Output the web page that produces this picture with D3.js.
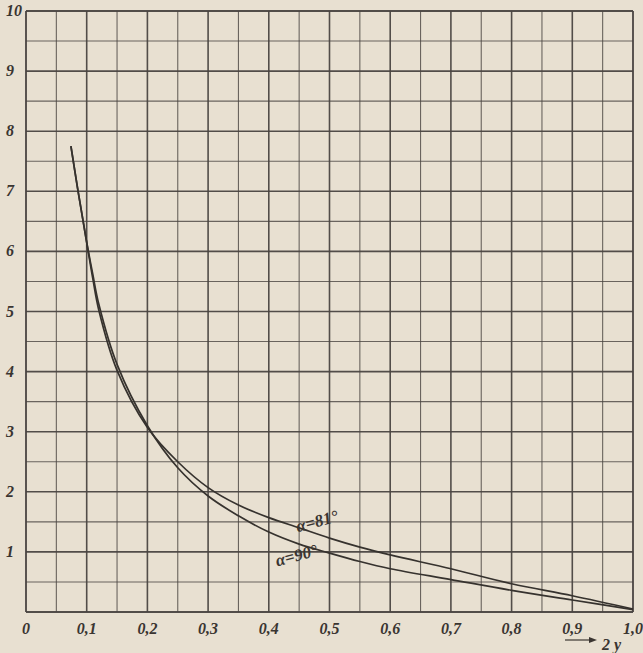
<!DOCTYPE html>
<html>
<head>
<meta charset="utf-8">
<script src="https://cdn.jsdelivr.net/npm/d3@7"></script>
<style>
  html, body { margin: 0; padding: 0; background: #e8e0d1; }
  svg { display: block; }
  .tick-label { font-family: "Liberation Serif", "DejaVu Serif", serif; font-style: italic; font-weight: bold; fill: #3a3531; }
</style>
</head>
<body>
<svg id="chart" width="643" height="653"></svg>
<script>
// Abscissa 2y, ordinate values; grid every 0.05 / 0.5
const xTickValues = [0, 0.1, 0.2, 0.3, 0.4, 0.5, 0.6, 0.7, 0.8, 0.9, 1.0];
const xTickLabels = ["0", "0,1", "0,2", "0,3", "0,4", "0,5", "0,6", "0,7", "0,8", "0,9", "1,0"];
const yTickValues = [1, 2, 3, 4, 5, 6, 7, 8, 9, 10];
const yTickLabels = ["1", "2", "3", "4", "5", "6", "7", "8", "9", "10"];

// Curve for α = 81°
const x81 = [0.074, 0.085, 0.095, 0.10, 0.11, 0.12, 0.15, 0.20, 0.25, 0.30, 0.35, 0.40, 0.45, 0.50, 0.55, 0.60, 0.70, 0.80, 0.90, 1.00];
const y81 = [7.75, 7.05, 6.45, 6.15, 5.55, 5.02, 4.02, 3.07, 2.50, 2.07, 1.78, 1.57, 1.40, 1.23, 1.08, 0.95, 0.72, 0.47, 0.27, 0.05];

// Curve for α = 90°
const x90 = [0.074, 0.085, 0.095, 0.10, 0.11, 0.12, 0.15, 0.20, 0.25, 0.30, 0.35, 0.40, 0.45, 0.50, 0.55, 0.60, 0.70, 0.80, 0.90, 1.00];
const y90 = [7.75, 7.05, 6.45, 6.15, 5.62, 5.12, 4.12, 3.10, 2.40, 1.93, 1.60, 1.33, 1.13, 0.98, 0.84, 0.72, 0.54, 0.36, 0.20, 0.04];

const svg = d3.select("#chart");
const x = d3.scaleLinear().domain([0, 1]).range([26, 633]);
const y = d3.scaleLinear().domain([0, 10]).range([612, 11]);

const gridColor = "#4a4541";
const grid = svg.append("g");

// vertical grid lines
d3.range(0, 21).forEach(i => {
  const v = i * 0.05;
  const major = i % 2 === 0;
  grid.append("line")
    .attr("x1", x(v)).attr("x2", x(v))
    .attr("y1", y(0)).attr("y2", y(10))
    .attr("stroke", gridColor)
    .attr("stroke-width", (i === 0 || i === 20) ? 1.9 : (major ? 1.6 : 1.1))
    .attr("stroke-opacity", major ? 0.95 : 0.8);
});
// horizontal grid lines
d3.range(0, 21).forEach(i => {
  const v = i * 0.5;
  const major = i % 2 === 0;
  grid.append("line")
    .attr("x1", x(0)).attr("x2", x(1))
    .attr("y1", y(v)).attr("y2", y(v))
    .attr("stroke", gridColor)
    .attr("stroke-width", (i === 0 || i === 20) ? 1.9 : (major ? 1.6 : 1.1))
    .attr("stroke-opacity", major ? 0.95 : 0.8);
});

// curves
const line = d3.line()
  .x(d => x(d[0]))
  .y(d => y(d[1]))
  .curve(d3.curveCatmullRom.alpha(0.5));

svg.append("path")
  .datum(d3.zip(x81, y81))
  .attr("d", line)
  .attr("fill", "none")
  .attr("stroke", "#36322e")
  .attr("stroke-width", 1.7);

svg.append("path")
  .datum(d3.zip(x90, y90))
  .attr("d", line)
  .attr("fill", "none")
  .attr("stroke", "#36322e")
  .attr("stroke-width", 1.7);

// curve labels
svg.append("text")
  .attr("class", "tick-label")
  .attr("transform", `translate(${x(0.482)},${y(1.42)}) rotate(-15)`)
  .attr("text-anchor", "middle")
  .attr("font-size", 17)
  .attr("font-weight", "normal")
  .text("α=81°");

svg.append("text")
  .attr("class", "tick-label")
  .attr("transform", `translate(${x(0.448)},${y(0.85)}) rotate(-15)`)
  .attr("text-anchor", "middle")
  .attr("font-size", 17)
  .attr("font-weight", "normal")
  .text("α=90°");

// x tick labels
svg.append("g").selectAll("text")
  .data(xTickValues)
  .join("text")
  .attr("class", "tick-label")
  .attr("x", d => x(d))
  .attr("y", 634)
  .attr("text-anchor", "middle")
  .attr("font-size", 16)
  .text((d, i) => xTickLabels[i]);

// y tick labels
svg.append("g").selectAll("text")
  .data(yTickValues)
  .join("text")
  .attr("class", "tick-label")
  .attr("x", 6)
  .attr("y", d => y(d) + 5)
  .attr("text-anchor", "start")
  .attr("font-size", 16)
  .text((d, i) => yTickLabels[i]);

// axis direction marker
svg.append("line")
  .attr("x1", 565).attr("x2", 594)
  .attr("y1", 640).attr("y2", 640)
  .attr("stroke", "#3a3531").attr("stroke-width", 1.2);
svg.append("path")
  .attr("d", "M589,637 L597,640 L589,643 Z")
  .attr("fill", "#3a3531");
svg.append("text")
  .attr("class", "tick-label")
  .attr("x", 602)
  .attr("y", 650)
  .attr("font-size", 16)
  .attr("font-weight", "normal")
  .text("2 y");
</script>
</body>
</html>
